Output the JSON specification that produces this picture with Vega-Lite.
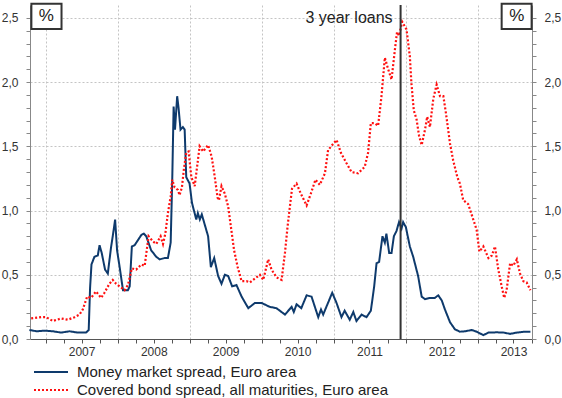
{
"$schema": "https://vega.github.io/schema/vega-lite/v6.json",
"autosize": {"type": "none"},
"padding": {"left": 30, "top": 5, "right": 30, "bottom": 59},
"width": 502,
"height": 334,
"config": {"view": {"stroke": null}, "font": "Liberation Sans",
 "axis": {"labelFont": "Liberation Sans", "labelFontSize": 12, "labelColor": "#333", "domainColor": "#888", "tickColor": "#888", "gridColor": "#c4c4c4", "gridDash": [2, 2], "labelOverlap": false, "labelFlush": false}},
"data": {"values": [
{"d":"2006-10-09","v":0.07,"s":"m"},{"d":"2006-11-15","v":0.06,"s":"m"},{"d":"2006-12-25","v":0.065,"s":"m"},{"d":"2007-02-05","v":0.06,"s":"m"},{"d":"2007-03-19","v":0.05,"s":"m"},{"d":"2007-05-01","v":0.06,"s":"m"},{"d":"2007-06-11","v":0.05,"s":"m"},{"d":"2007-07-23","v":0.05,"s":"m"},{"d":"2007-08-06","v":0.07,"s":"m"},{"d":"2007-08-13","v":0.40,"s":"m"},{"d":"2007-08-20","v":0.58,"s":"m"},{"d":"2007-09-04","v":0.64,"s":"m"},{"d":"2007-09-21","v":0.65,"s":"m"},{"d":"2007-09-30","v":0.73,"s":"m"},{"d":"2007-10-11","v":0.67,"s":"m"},{"d":"2007-10-28","v":0.54,"s":"m"},{"d":"2007-11-11","v":0.51,"s":"m"},{"d":"2007-11-27","v":0.71,"s":"m"},{"d":"2007-12-06","v":0.80,"s":"m"},{"d":"2007-12-18","v":0.93,"s":"m"},{"d":"2007-12-28","v":0.69,"s":"m"},{"d":"2008-01-10","v":0.56,"s":"m"},{"d":"2008-01-27","v":0.38,"s":"m"},{"d":"2008-02-21","v":0.38,"s":"m"},{"d":"2008-03-01","v":0.41,"s":"m"},{"d":"2008-03-12","v":0.72,"s":"m"},{"d":"2008-03-26","v":0.73,"s":"m"},{"d":"2008-04-12","v":0.77,"s":"m"},{"d":"2008-04-29","v":0.81,"s":"m"},{"d":"2008-05-12","v":0.82,"s":"m"},{"d":"2008-05-24","v":0.80,"s":"m"},{"d":"2008-06-18","v":0.69,"s":"m"},{"d":"2008-07-14","v":0.64,"s":"m"},{"d":"2008-07-31","v":0.62,"s":"m"},{"d":"2008-08-25","v":0.63,"s":"m"},{"d":"2008-09-11","v":0.63,"s":"m"},{"d":"2008-09-25","v":0.75,"s":"m"},{"d":"2008-10-03","v":1.24,"s":"m"},{"d":"2008-10-10","v":1.81,"s":"m"},{"d":"2008-10-17","v":1.63,"s":"m"},{"d":"2008-10-28","v":1.89,"s":"m"},{"d":"2008-11-04","v":1.80,"s":"m"},{"d":"2008-11-14","v":1.63,"s":"m"},{"d":"2008-11-26","v":1.65,"s":"m"},{"d":"2008-12-05","v":1.63,"s":"m"},{"d":"2008-12-13","v":1.26,"s":"m"},{"d":"2008-12-30","v":1.21,"s":"m"},{"d":"2009-01-11","v":1.06,"s":"m"},{"d":"2009-02-02","v":0.93,"s":"m"},{"d":"2009-02-10","v":0.98,"s":"m"},{"d":"2009-02-20","v":0.93,"s":"m"},{"d":"2009-03-02","v":0.97,"s":"m"},{"d":"2009-04-03","v":0.80,"s":"m"},{"d":"2009-04-17","v":0.56,"s":"m"},{"d":"2009-05-04","v":0.63,"s":"m"},{"d":"2009-05-24","v":0.49,"s":"m"},{"d":"2009-06-10","v":0.43,"s":"m"},{"d":"2009-06-27","v":0.50,"s":"m"},{"d":"2009-07-14","v":0.49,"s":"m"},{"d":"2009-08-03","v":0.41,"s":"m"},{"d":"2009-08-25","v":0.42,"s":"m"},{"d":"2009-09-20","v":0.33,"s":"m"},{"d":"2009-10-24","v":0.24,"s":"m"},{"d":"2009-11-26","v":0.28,"s":"m"},{"d":"2009-12-31","v":0.28,"s":"m"},{"d":"2010-02-10","v":0.25,"s":"m"},{"d":"2010-03-16","v":0.24,"s":"m"},{"d":"2010-04-28","v":0.19,"s":"m"},{"d":"2010-06-01","v":0.25,"s":"m"},{"d":"2010-06-12","v":0.21,"s":"m"},{"d":"2010-06-26","v":0.27,"s":"m"},{"d":"2010-07-20","v":0.24,"s":"m"},{"d":"2010-08-16","v":0.34,"s":"m"},{"d":"2010-09-10","v":0.33,"s":"m"},{"d":"2010-10-14","v":0.17,"s":"m"},{"d":"2010-10-28","v":0.23,"s":"m"},{"d":"2010-11-08","v":0.19,"s":"m"},{"d":"2010-12-24","v":0.36,"s":"m"},{"d":"2011-01-15","v":0.28,"s":"m"},{"d":"2011-02-09","v":0.17,"s":"m"},{"d":"2011-02-25","v":0.22,"s":"m"},{"d":"2011-03-23","v":0.15,"s":"m"},{"d":"2011-04-10","v":0.21,"s":"m"},{"d":"2011-04-26","v":0.14,"s":"m"},{"d":"2011-05-22","v":0.19,"s":"m"},{"d":"2011-06-16","v":0.17,"s":"m"},{"d":"2011-07-08","v":0.22,"s":"m"},{"d":"2011-07-25","v":0.41,"s":"m"},{"d":"2011-08-06","v":0.59,"s":"m"},{"d":"2011-08-19","v":0.60,"s":"m"},{"d":"2011-09-05","v":0.80,"s":"m"},{"d":"2011-09-17","v":0.75,"s":"m"},{"d":"2011-09-25","v":0.82,"s":"m"},{"d":"2011-10-09","v":0.67,"s":"m"},{"d":"2011-10-21","v":0.67,"s":"m"},{"d":"2011-11-02","v":0.80,"s":"m"},{"d":"2011-11-15","v":0.84,"s":"m"},{"d":"2011-11-28","v":0.91,"s":"m"},{"d":"2011-12-11","v":0.86,"s":"m"},{"d":"2011-12-19","v":0.91,"s":"m"},{"d":"2012-01-02","v":0.87,"s":"m"},{"d":"2012-01-22","v":0.72,"s":"m"},{"d":"2012-02-08","v":0.64,"s":"m"},{"d":"2012-03-04","v":0.49,"s":"m"},{"d":"2012-03-22","v":0.33,"s":"m"},{"d":"2012-04-08","v":0.31,"s":"m"},{"d":"2012-05-03","v":0.32,"s":"m"},{"d":"2012-05-28","v":0.32,"s":"m"},{"d":"2012-06-14","v":0.34,"s":"m"},{"d":"2012-07-02","v":0.30,"s":"m"},{"d":"2012-07-18","v":0.23,"s":"m"},{"d":"2012-08-13","v":0.13,"s":"m"},{"d":"2012-09-07","v":0.075,"s":"m"},{"d":"2012-10-02","v":0.057,"s":"m"},{"d":"2012-10-28","v":0.06,"s":"m"},{"d":"2012-12-01","v":0.07,"s":"m"},{"d":"2012-12-26","v":0.057,"s":"m"},{"d":"2013-01-29","v":0.03,"s":"m"},{"d":"2013-02-24","v":0.05,"s":"m"},{"d":"2013-04-07","v":0.052,"s":"m"},{"d":"2013-05-11","v":0.05,"s":"m"},{"d":"2013-06-14","v":0.04,"s":"m"},{"d":"2013-07-18","v":0.05,"s":"m"},{"d":"2013-08-29","v":0.057,"s":"m"},{"d":"2013-09-25","v":0.057,"s":"m"},
{"d":"2006-10-18","v":0.16,"s":"c"},{"d":"2006-12-08","v":0.17,"s":"c"},{"d":"2007-01-02","v":0.17,"s":"c"},{"d":"2007-02-05","v":0.14,"s":"c"},{"d":"2007-03-19","v":0.16,"s":"c"},{"d":"2007-04-22","v":0.15,"s":"c"},{"d":"2007-05-26","v":0.17,"s":"c"},{"d":"2007-06-20","v":0.19,"s":"c"},{"d":"2007-07-07","v":0.23,"s":"c"},{"d":"2007-07-29","v":0.33,"s":"c"},{"d":"2007-08-18","v":0.32,"s":"c"},{"d":"2007-09-12","v":0.37,"s":"c"},{"d":"2007-10-08","v":0.32,"s":"c"},{"d":"2007-10-25","v":0.36,"s":"c"},{"d":"2007-11-19","v":0.43,"s":"c"},{"d":"2007-12-06","v":0.46,"s":"c"},{"d":"2007-12-23","v":0.43,"s":"c"},{"d":"2008-01-18","v":0.40,"s":"c"},{"d":"2008-02-04","v":0.38,"s":"c"},{"d":"2008-02-21","v":0.42,"s":"c"},{"d":"2008-03-12","v":0.55,"s":"c"},{"d":"2008-04-03","v":0.54,"s":"c"},{"d":"2008-04-29","v":0.58,"s":"c"},{"d":"2008-05-16","v":0.57,"s":"c"},{"d":"2008-06-05","v":0.80,"s":"c"},{"d":"2008-06-27","v":0.76,"s":"c"},{"d":"2008-07-14","v":0.74,"s":"c"},{"d":"2008-08-05","v":0.80,"s":"c"},{"d":"2008-08-17","v":0.74,"s":"c"},{"d":"2008-08-29","v":0.82,"s":"c"},{"d":"2008-09-11","v":0.98,"s":"c"},{"d":"2008-09-25","v":1.11,"s":"c"},{"d":"2008-10-03","v":1.24,"s":"c"},{"d":"2008-10-15","v":1.18,"s":"c"},{"d":"2008-11-01","v":1.16,"s":"c"},{"d":"2008-11-09","v":1.12,"s":"c"},{"d":"2008-11-21","v":1.18,"s":"c"},{"d":"2008-12-01","v":1.32,"s":"c"},{"d":"2008-12-13","v":1.45,"s":"c"},{"d":"2008-12-25","v":1.46,"s":"c"},{"d":"2009-01-08","v":1.26,"s":"c"},{"d":"2009-01-25","v":1.19,"s":"c"},{"d":"2009-02-02","v":1.29,"s":"c"},{"d":"2009-02-19","v":1.50,"s":"c"},{"d":"2009-03-09","v":1.46,"s":"c"},{"d":"2009-04-03","v":1.51,"s":"c"},{"d":"2009-04-21","v":1.42,"s":"c"},{"d":"2009-05-07","v":1.26,"s":"c"},{"d":"2009-05-21","v":1.10,"s":"c"},{"d":"2009-05-28","v":1.08,"s":"c"},{"d":"2009-06-10","v":1.19,"s":"c"},{"d":"2009-06-27","v":1.13,"s":"c"},{"d":"2009-07-14","v":1.03,"s":"c"},{"d":"2009-07-28","v":0.87,"s":"c"},{"d":"2009-08-13","v":0.69,"s":"c"},{"d":"2009-08-31","v":0.56,"s":"c"},{"d":"2009-09-20","v":0.45,"s":"c"},{"d":"2009-10-15","v":0.45,"s":"c"},{"d":"2009-11-01","v":0.44,"s":"c"},{"d":"2009-11-26","v":0.47,"s":"c"},{"d":"2009-12-22","v":0.50,"s":"c"},{"d":"2010-01-08","v":0.46,"s":"c"},{"d":"2010-02-02","v":0.62,"s":"c"},{"d":"2010-02-19","v":0.54,"s":"c"},{"d":"2010-03-16","v":0.48,"s":"c"},{"d":"2010-04-11","v":0.46,"s":"c"},{"d":"2010-04-28","v":0.67,"s":"c"},{"d":"2010-05-11","v":0.87,"s":"c"},{"d":"2010-05-23","v":1.03,"s":"c"},{"d":"2010-06-03","v":1.17,"s":"c"},{"d":"2010-06-26","v":1.21,"s":"c"},{"d":"2010-07-18","v":1.13,"s":"c"},{"d":"2010-08-16","v":1.04,"s":"c"},{"d":"2010-09-06","v":1.13,"s":"c"},{"d":"2010-09-30","v":1.24,"s":"c"},{"d":"2010-10-22","v":1.20,"s":"c"},{"d":"2010-11-17","v":1.29,"s":"c"},{"d":"2010-12-03","v":1.47,"s":"c"},{"d":"2010-12-24","v":1.51,"s":"c"},{"d":"2011-01-15","v":1.55,"s":"c"},{"d":"2011-02-06","v":1.45,"s":"c"},{"d":"2011-03-06","v":1.37,"s":"c"},{"d":"2011-04-01","v":1.30,"s":"c"},{"d":"2011-05-04","v":1.29,"s":"c"},{"d":"2011-06-07","v":1.34,"s":"c"},{"d":"2011-06-24","v":1.45,"s":"c"},{"d":"2011-07-08","v":1.68,"s":"c"},{"d":"2011-07-28","v":1.68,"s":"c"},{"d":"2011-08-14","v":1.66,"s":"c"},{"d":"2011-08-31","v":1.89,"s":"c"},{"d":"2011-09-17","v":2.19,"s":"c"},{"d":"2011-10-04","v":2.10,"s":"c"},{"d":"2011-10-21","v":2.02,"s":"c"},{"d":"2011-11-07","v":2.25,"s":"c"},{"d":"2011-11-18","v":2.39,"s":"c"},{"d":"2011-11-28","v":2.36,"s":"c"},{"d":"2011-12-14","v":2.47,"s":"c"},{"d":"2012-01-05","v":2.41,"s":"c"},{"d":"2012-01-22","v":2.20,"s":"c"},{"d":"2012-01-30","v":1.99,"s":"c"},{"d":"2012-02-11","v":1.78,"s":"c"},{"d":"2012-02-25","v":1.71,"s":"c"},{"d":"2012-03-09","v":1.58,"s":"c"},{"d":"2012-03-22","v":1.51,"s":"c"},{"d":"2012-04-08","v":1.63,"s":"c"},{"d":"2012-04-19","v":1.73,"s":"c"},{"d":"2012-05-03","v":1.65,"s":"c"},{"d":"2012-05-20","v":1.87,"s":"c"},{"d":"2012-06-06","v":1.98,"s":"c"},{"d":"2012-06-23","v":1.89,"s":"c"},{"d":"2012-07-10","v":1.89,"s":"c"},{"d":"2012-07-23","v":1.76,"s":"c"},{"d":"2012-08-13","v":1.52,"s":"c"},{"d":"2012-08-29","v":1.39,"s":"c"},{"d":"2012-09-19","v":1.26,"s":"c"},{"d":"2012-10-02","v":1.21,"s":"c"},{"d":"2012-10-19","v":1.08,"s":"c"},{"d":"2012-11-13","v":1.05,"s":"c"},{"d":"2012-12-09","v":0.93,"s":"c"},{"d":"2012-12-26","v":0.85,"s":"c"},{"d":"2013-01-09","v":0.68,"s":"c"},{"d":"2013-01-29","v":0.72,"s":"c"},{"d":"2013-02-24","v":0.63,"s":"c"},{"d":"2013-03-13","v":0.65,"s":"c"},{"d":"2013-03-29","v":0.72,"s":"c"},{"d":"2013-04-15","v":0.54,"s":"c"},{"d":"2013-05-02","v":0.41,"s":"c"},{"d":"2013-05-15","v":0.32,"s":"c"},{"d":"2013-05-27","v":0.38,"s":"c"},{"d":"2013-06-14","v":0.59,"s":"c"},{"d":"2013-06-30","v":0.57,"s":"c"},{"d":"2013-07-18","v":0.62,"s":"c"},{"d":"2013-08-03","v":0.51,"s":"c"},{"d":"2013-08-20","v":0.45,"s":"c"},{"d":"2013-09-06","v":0.44,"s":"c"},{"d":"2013-09-25","v":0.38,"s":"c"}
]},
"layer": [
 {
  "transform": [{"filter": "datum.s == 'm'"}],
  "mark": {"type": "line", "strokeWidth": 2, "interpolate": "linear"},
  "encoding": {
   "x": {"field": "d", "type": "temporal",
    "scale": {"type": "utc", "domain": [{"year": 2006, "month": 10, "date": 12, "utc": true}, {"year": 2013, "month": 10, "date": 3, "utc": true}]},
    "axis": {"title": null, "orient": "bottom", "grid": true, "tickSize": 4, "labelPadding": 3, "domainColor": "#555", "tickColor": "#555", "labelFontSize": 12,
     "values": [
      {"year":2006,"month":10,"date":1,"utc":true},
      {"year":2007,"month":1,"date":1,"utc":true},{"year":2007,"month":4,"date":1,"utc":true},{"year":2007,"month":7,"date":1,"utc":true},{"year":2007,"month":10,"date":1,"utc":true},
      {"year":2008,"month":1,"date":1,"utc":true},{"year":2008,"month":4,"date":1,"utc":true},{"year":2008,"month":7,"date":1,"utc":true},{"year":2008,"month":10,"date":1,"utc":true},
      {"year":2009,"month":1,"date":1,"utc":true},{"year":2009,"month":4,"date":1,"utc":true},{"year":2009,"month":7,"date":1,"utc":true},{"year":2009,"month":10,"date":1,"utc":true},
      {"year":2010,"month":1,"date":1,"utc":true},{"year":2010,"month":4,"date":1,"utc":true},{"year":2010,"month":7,"date":1,"utc":true},{"year":2010,"month":10,"date":1,"utc":true},
      {"year":2011,"month":1,"date":1,"utc":true},{"year":2011,"month":4,"date":1,"utc":true},{"year":2011,"month":7,"date":1,"utc":true},{"year":2011,"month":10,"date":1,"utc":true},
      {"year":2012,"month":1,"date":1,"utc":true},{"year":2012,"month":4,"date":1,"utc":true},{"year":2012,"month":7,"date":1,"utc":true},{"year":2012,"month":10,"date":1,"utc":true},
      {"year":2013,"month":1,"date":1,"utc":true},{"year":2013,"month":4,"date":1,"utc":true},{"year":2013,"month":7,"date":1,"utc":true},{"year":2013,"month":10,"date":1,"utc":true}
     ],
     "labelExpr": "utcmonth(datum.value) == 6 ? utcFormat(datum.value, '%Y') : ''",
     "gridOpacity": {"condition": {"test": "utcmonth(datum.value) == 0", "value": 1}, "value": 0}
    }},
   "y": {"field": "v", "type": "quantitative",
    "scale": {"domain": [0, 2.6], "nice": false},
    "axis": {"title": null, "orient": "left", "tickSize": 4, "labelPadding": 8, "grid": true,
     "values": [0,0.1,0.2,0.3,0.4,0.5,0.6,0.7,0.8,0.9,1,1.1,1.2,1.3,1.4,1.5,1.6,1.7,1.8,1.9,2,2.1,2.2,2.3,2.4,2.5],
     "labelExpr": "abs(datum.value*2 - round(datum.value*2)) < 0.001 ? replace(format(datum.value, '.1f'), '.', ',') : ''",
     "gridOpacity": {"condition": {"test": "abs(datum.value*2 - round(datum.value*2)) < 0.001", "value": 1}, "value": 0}
    }},
   "color": {"field": "s", "type": "nominal",
    "scale": {"domain": ["m", "c"], "range": ["#0e3a6c", "#ff1010"]},
    "legend": {"orient": "none", "legendX": 3, "legendY": 360, "direction": "vertical", "title": null,
     "symbolType": "stroke", "symbolSize": 1156, "symbolStrokeWidth": 2, "clipHeight": 14, "labelFontSize": 15, "labelFont": "Liberation Sans", "labelColor": "#222", "labelOffset": 8, "rowPadding": 3, "labelLimit": 450,
     "labelExpr": "datum.label == 'm' ? 'Money market spread, Euro area' : 'Covered bond spread, all maturities, Euro area'"}},
   "strokeDash": {"field": "s", "type": "nominal",
    "scale": {"domain": ["m", "c"], "range": [[1, 0], [2, 2]]},
    "legend": {"orient": "none", "legendX": 3, "legendY": 360, "direction": "vertical", "title": null,
     "symbolType": "stroke", "symbolSize": 1156, "symbolStrokeWidth": 2, "clipHeight": 14, "labelFontSize": 15, "labelFont": "Liberation Sans", "labelColor": "#222", "labelOffset": 8, "rowPadding": 3, "labelLimit": 450,
     "labelExpr": "datum.label == 'm' ? 'Money market spread, Euro area' : 'Covered bond spread, all maturities, Euro area'"}}
  }
 },
 {
  "transform": [{"filter": "datum.s == 'c'"}],
  "mark": {"type": "line", "strokeWidth": 2.2, "strokeCap": "butt"},
  "encoding": {
   "x": {"field": "d", "type": "temporal", "axis": null},
   "y": {"field": "v", "type": "quantitative",
    "axis": {"title": null, "orient": "right", "tickSize": 4, "labelPadding": 8, "grid": false,
     "values": [0,0.1,0.2,0.3,0.4,0.5,0.6,0.7,0.8,0.9,1,1.1,1.2,1.3,1.4,1.5,1.6,1.7,1.8,1.9,2,2.1,2.2,2.3,2.4,2.5],
     "labelExpr": "abs(datum.value*2 - round(datum.value*2)) < 0.001 ? replace(format(datum.value, '.1f'), '.', ',') : ''"
    }},
   "color": {"field": "s", "type": "nominal"},
   "strokeDash": {"field": "s", "type": "nominal"}
  }
 },
 {
  "data": {"values": [{"d": "2011-12-06", "label": "3 year loans"}]},
  "layer": [
   {"mark": {"type": "rule", "color": "#333", "strokeWidth": 2},
    "encoding": {"x": {"field": "d", "type": "temporal", "axis": null}}},
   {"mark": {"type": "text", "align": "right", "baseline": "middle", "dx": -8, "fontSize": 16, "font": "Liberation Sans", "color": "#222"},
    "encoding": {"x": {"field": "d", "type": "temporal", "axis": null}, "y": {"datum": 2.5, "type": "quantitative", "axis": null}, "text": {"field": "label"}}}
  ],
  "resolve": {"axis": {"x": "independent", "y": "independent"}}
 },
 {
  "data": {"values": [{"t": "%"}]},
  "layer": [
   {"mark": {"type": "rect", "fill": "white", "stroke": "#333", "strokeWidth": 2},
    "encoding": {
     "x": {"datum": {"year": 2006, "month": 10, "date": 19, "utc": true}, "type": "temporal", "axis": null},
     "x2": {"datum": {"year": 2007, "month": 3, "date": 21, "utc": true}},
     "y": {"datum": 2.609, "type": "quantitative", "axis": null},
     "y2": {"datum": 2.414}}},
   {"mark": {"type": "text", "fontSize": 17, "font": "Liberation Sans", "color": "#222", "baseline": "middle"},
    "encoding": {
     "x": {"datum": {"year": 2007, "month": 1, "date": 3, "utc": true}, "type": "temporal", "axis": null},
     "y": {"datum": 2.512, "type": "quantitative", "axis": null},
     "text": {"field": "t"}}},
   {"mark": {"type": "rect", "fill": "white", "stroke": "#333", "strokeWidth": 2},
    "encoding": {
     "x": {"datum": {"year": 2013, "month": 5, "date": 2, "utc": true}, "type": "temporal", "axis": null},
     "x2": {"datum": {"year": 2013, "month": 10, "date": 1, "utc": true}},
     "y": {"datum": 2.609, "type": "quantitative", "axis": null},
     "y2": {"datum": 2.414}}},
   {"mark": {"type": "text", "fontSize": 17, "font": "Liberation Sans", "color": "#222", "baseline": "middle"},
    "encoding": {
     "x": {"datum": {"year": 2013, "month": 7, "date": 18, "utc": true}, "type": "temporal", "axis": null},
     "y": {"datum": 2.512, "type": "quantitative", "axis": null},
     "text": {"field": "t"}}}
  ],
  "resolve": {"axis": {"x": "independent", "y": "independent"}}
 }
],
"resolve": {"axis": {"x": "independent", "y": "independent"}}
}
